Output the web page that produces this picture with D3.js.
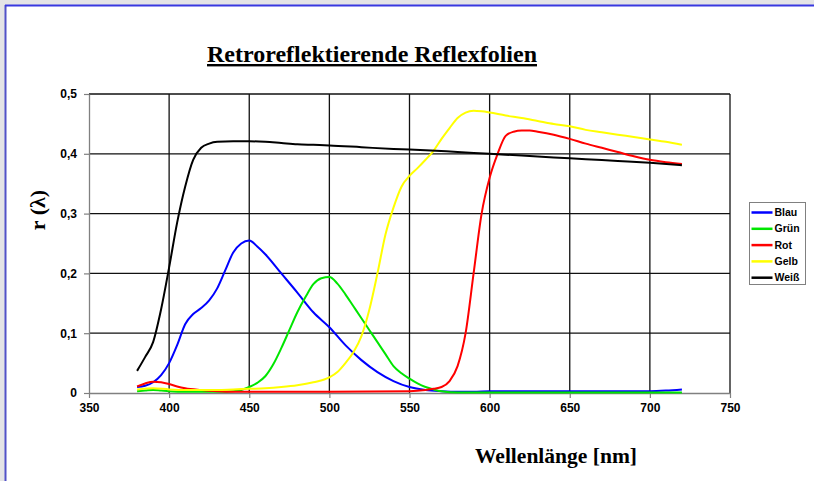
<!DOCTYPE html>
<html>
<head>
<meta charset="utf-8">
<script src="https://cdn.jsdelivr.net/npm/d3@7"></script>
<style>
  body { margin: 0; background: #fff; }
  svg { display: block; }
</style>
</head>
<body>
<div class="graph"></div>
<script>
// Wavelengths (nm) and reflectance values
const blauNm = [380, 385, 390, 395, 400, 405, 410, 415, 420, 425, 430, 435, 440, 445, 450, 455, 460, 470, 480, 490, 500, 510, 520, 530, 540, 550, 560, 570, 580, 590, 600, 650, 700, 710, 720];
const blauR  = [0.010, 0.012, 0.018, 0.030, 0.050, 0.080, 0.115, 0.132, 0.142, 0.155, 0.175, 0.205, 0.235, 0.250, 0.255, 0.245, 0.232, 0.200, 0.168, 0.135, 0.110, 0.080, 0.055, 0.035, 0.020, 0.010, 0.005, 0.003, 0.002, 0.002, 0.003, 0.003, 0.003, 0.004, 0.006];

const gruenNm = [380, 385, 390, 395, 400, 410, 420, 430, 440, 445, 450, 455, 460, 465, 470, 475, 480, 485, 490, 495, 500, 505, 510, 515, 520, 525, 530, 535, 540, 545, 550, 555, 560, 565, 570, 580, 650, 720];
const gruenR  = [0.003, 0.004, 0.005, 0.004, 0.003, 0.002, 0.002, 0.002, 0.003, 0.005, 0.010, 0.017, 0.028, 0.048, 0.075, 0.105, 0.135, 0.160, 0.182, 0.192, 0.194, 0.183, 0.165, 0.145, 0.125, 0.105, 0.085, 0.065, 0.045, 0.033, 0.024, 0.016, 0.010, 0.006, 0.003, 0.001, 0.001, 0.001];

const rotNm = [380, 385, 390, 395, 400, 405, 410, 420, 430, 440, 500, 550, 560, 565, 570, 575, 580, 585, 590, 595, 600, 605, 610, 615, 620, 625, 630, 640, 650, 660, 670, 680, 690, 700, 710, 720];
const rotR  = [0.011, 0.016, 0.019, 0.018, 0.015, 0.011, 0.008, 0.005, 0.003, 0.002, 0.002, 0.003, 0.005, 0.007, 0.010, 0.020, 0.045, 0.100, 0.200, 0.300, 0.360, 0.400, 0.430, 0.437, 0.439, 0.439, 0.437, 0.432, 0.425, 0.417, 0.410, 0.403, 0.396, 0.390, 0.386, 0.383];

const gelbNm = [380, 390, 400, 410, 420, 430, 440, 450, 460, 470, 480, 490, 500, 505, 510, 515, 520, 525, 530, 535, 540, 545, 550, 555, 560, 565, 570, 575, 580, 585, 590, 595, 600, 610, 620, 630, 640, 650, 660, 670, 680, 690, 700, 710, 720];
const gelbR  = [0.006, 0.008, 0.006, 0.005, 0.005, 0.005, 0.006, 0.007, 0.008, 0.010, 0.013, 0.018, 0.026, 0.035, 0.050, 0.068, 0.095, 0.140, 0.200, 0.265, 0.310, 0.345, 0.363, 0.376, 0.390, 0.405, 0.425, 0.443, 0.460, 0.469, 0.472, 0.471, 0.469, 0.464, 0.460, 0.455, 0.450, 0.446, 0.440, 0.436, 0.432, 0.428, 0.424, 0.420, 0.415];

const weissNm = [380, 385, 390, 395, 400, 405, 410, 415, 420, 425, 430, 440, 450, 460, 470, 480, 490, 500, 520, 540, 560, 580, 600, 620, 640, 660, 680, 700, 720];
const weissR  = [0.037, 0.060, 0.085, 0.140, 0.210, 0.285, 0.345, 0.390, 0.410, 0.417, 0.420, 0.421, 0.421, 0.420, 0.418, 0.416, 0.415, 0.414, 0.411, 0.408, 0.406, 0.403, 0.400, 0.397, 0.394, 0.391, 0.388, 0.385, 0.381];

const seriesNames  = ['Blau', 'Grün', 'Rot', 'Gelb', 'Weiß'];
const seriesColors = ['#0000ff', '#00e600', '#ff0000', '#ffff00', '#000000'];
const xTicks = [350, 400, 450, 500, 550, 600, 650, 700, 750];
const yTicks = [0, 0.1, 0.2, 0.3, 0.4, 0.5];

const width = 814;
const height = 481;

const svg = d3.select('.graph').append('svg')
  .attr('width', width)
  .attr('height', height);

// page frame (grey strip + blue border like the screenshot)
svg.append('rect').attr('width', width).attr('height', height).attr('fill', '#e4e4e6');
svg.append('rect')
  .attr('x', 5).attr('y', 5)
  .attr('width', width - 5).attr('height', height - 5)
  .attr('fill', '#fff');
svg.append('line').attr('x1', 5.5).attr('x2', 5.5).attr('y1', 5).attr('y2', height)
  .attr('stroke', '#5252c8').attr('stroke-width', 2);
svg.append('line').attr('x1', 5).attr('x2', width).attr('y1', 5.5).attr('y2', 5.5)
  .attr('stroke', '#3838e0').attr('stroke-width', 2);

const x = d3.scaleLinear().domain([350, 750]).range([89, 730]);
const y = d3.scaleLinear().domain([0, 0.5]).range([393, 94]);

// grid
svg.append('g').selectAll('line')
  .data(xTicks.slice(1))
  .enter().append('line')
  .attr('x1', d => x(d)).attr('x2', d => x(d))
  .attr('y1', y(0)).attr('y2', y(0.5))
  .attr('stroke', '#111').attr('stroke-width', 1.3);

svg.append('g').selectAll('line')
  .data(yTicks.slice(1))
  .enter().append('line')
  .attr('x1', x(350)).attr('x2', x(750))
  .attr('y1', d => y(d)).attr('y2', d => y(d))
  .attr('stroke', '#111').attr('stroke-width', 1.3);

// axes
const fmt = d => d === 0 ? '0' : d3.format('.1f')(d).replace('.', ',');

const xAxis = svg.append('g')
  .attr('transform', 'translate(0,' + y(0) + ')')
  .call(d3.axisBottom(x).tickValues(xTicks).tickSize(5).tickSizeOuter(0).tickPadding(5));
const yAxis = svg.append('g')
  .attr('transform', 'translate(' + x(350) + ',0)')
  .call(d3.axisLeft(y).tickValues(yTicks).tickFormat(fmt).tickSize(5).tickSizeOuter(0).tickPadding(7));

[xAxis, yAxis].forEach(ax => {
  ax.select('.domain').attr('stroke', '#808080').attr('stroke-width', 1.3);
  ax.selectAll('.tick line').attr('stroke', '#808080').attr('stroke-width', 1.2);
  ax.selectAll('text')
    .attr('fill', '#000')
    .style('font-family', '"Liberation Sans", Arial, sans-serif')
    .style('font-weight', 'bold')
    .style('font-size', '12px');
});

// series
const series = [
  { name: seriesNames[0], color: seriesColors[0], nm: blauNm, r: blauR },
  { name: seriesNames[1], color: seriesColors[1], nm: gruenNm, r: gruenR },
  { name: seriesNames[2], color: seriesColors[2], nm: rotNm, r: rotR },
  { name: seriesNames[3], color: seriesColors[3], nm: gelbNm, r: gelbR },
  { name: seriesNames[4], color: seriesColors[4], nm: weissNm, r: weissR }
];

const line = d3.line()
  .x(d => x(d[0]))
  .y(d => y(d[1]))
  .curve(d3.curveMonotoneX);

svg.append('g').selectAll('path')
  .data(series)
  .enter().append('path')
  .attr('fill', 'none')
  .attr('stroke', d => d.color)
  .attr('stroke-width', 2)
  .attr('stroke-linejoin', 'round')
  .attr('d', d => line(d.nm.map((v, i) => [v, d.r[i]])));

// title
svg.append('text')
  .attr('x', 372).attr('y', 62)
  .attr('text-anchor', 'middle')
  .attr('textLength', 330)
  .attr('lengthAdjust', 'spacingAndGlyphs')
  .style('font-family', '"Liberation Serif", "Times New Roman", serif')
  .style('font-weight', 'bold')
  .style('font-size', '24px')
  .style('text-decoration', 'underline')
  .text('Retroreflektierende Reflexfolien');

// axis titles
svg.append('text')
  .attr('transform', 'translate(45,210) rotate(-90)')
  .attr('text-anchor', 'middle')
  .style('font-family', '"Liberation Serif", "Times New Roman", serif')
  .style('font-weight', 'bold')
  .style('font-size', '22px')
  .text('r (λ)');

svg.append('text')
  .attr('x', 556).attr('y', 463)
  .attr('text-anchor', 'middle')
  .attr('textLength', 162)
  .attr('lengthAdjust', 'spacingAndGlyphs')
  .style('font-family', '"Liberation Serif", "Times New Roman", serif')
  .style('font-weight', 'bold')
  .style('font-size', '22px')
  .text('Wellenlänge [nm]');

// legend
const legendBox = svg.append('g').attr('transform', 'translate(749.5,202.5)');
legendBox.append('rect')
  .attr('width', 56).attr('height', 82)
  .attr('fill', '#fff').attr('stroke', '#808080').attr('stroke-width', 1);

const legend = legendBox.selectAll('.legend')
  .data(series)
  .enter().append('g')
  .attr('class', 'legend')
  .attr('transform', (d, i) => 'translate(0,' + (10 + i * 16.3) + ')');

legend.append('line')
  .attr('x1', 2).attr('x2', 23)
  .attr('stroke', d => d.color)
  .attr('stroke-width', 2.5);

legend.append('text')
  .attr('x', 25).attr('dy', '.35em')
  .style('font-family', '"Liberation Sans", Arial, sans-serif')
  .style('font-weight', 'bold')
  .style('font-size', '10.5px')
  .text(d => d.name);
</script>
</body>
</html>
